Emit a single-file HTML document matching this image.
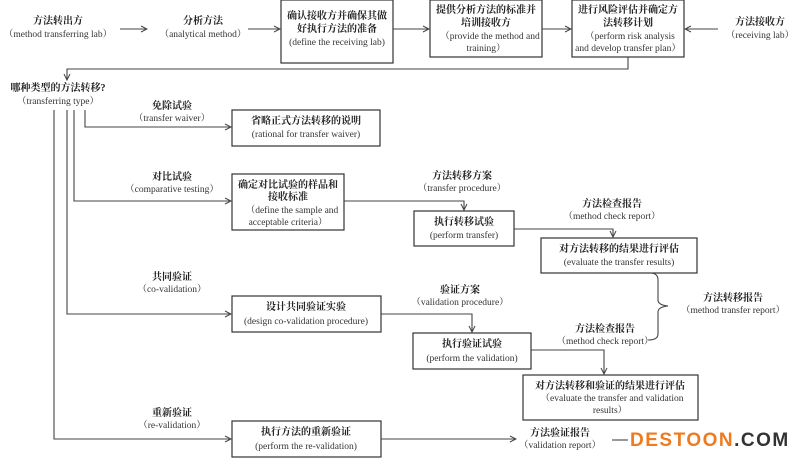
<!DOCTYPE html>
<html><head><meta charset="utf-8"><style>
html,body{margin:0;padding:0;background:#fff;}
svg{display:block;}
text{font-family:"Liberation Serif","Noto Serif CJK SC",serif;font-size:9.5px;fill:#333;text-anchor:middle;}
.c{font-weight:bold;font-size:10px;fill:#222;}
rect{fill:#fff;stroke:#333;stroke-width:1.2;}
.l{fill:none;stroke:#444;stroke-width:1.1;}
</style></head><body>
<svg width="800" height="458" viewBox="0 0 800 458">
<defs><marker id="a" markerWidth="8" markerHeight="8" refX="7" refY="4" orient="auto" markerUnits="userSpaceOnUse"><path d="M1,1 L7,4 L1,7" fill="none" stroke="#444" stroke-width="1"/></marker></defs>

<text class="c" x="58" y="24">方法转出方</text>
<text x="58" y="37">（method transferring lab）</text>
<path class="l" d="M120,29 H147" marker-end="url(#a)"/>
<text class="c" x="203" y="24">分析方法</text>
<text x="203" y="37">（analytical method）</text>
<path class="l" d="M248,29 H280" marker-end="url(#a)"/>
<rect x="281" y="0" width="112" height="63"/>
<text class="c" x="337" y="19">确认接收方并确保其做</text>
<text class="c" x="337" y="32">好执行方法的准备</text>
<text x="337" y="45">(define the receiving lab)</text>
<path class="l" d="M393,29 H429" marker-end="url(#a)"/>
<rect x="430" y="0" width="112" height="57"/>
<text class="c" x="486" y="13">提供分析方法的标准并</text>
<text class="c" x="486" y="26">培训接收方</text>
<text x="490" y="39">（provide the method and</text>
<text x="486" y="51">training）</text>
<path class="l" d="M542,29 H571" marker-end="url(#a)"/>
<rect x="572" y="0" width="112" height="57"/>
<text class="c" x="628" y="13">进行风险评估并确定方</text>
<text class="c" x="628" y="26">法转移计划</text>
<text x="630" y="39">（perform risk analysis</text>
<text x="628" y="51">and develop transfer plan）</text>
<path class="l" d="M718,29 H685" marker-end="url(#a)"/>
<text class="c" x="760" y="25">方法接收方</text>
<text x="760" y="38">（receiving lab）</text>
<path class="l" d="M628,57 V69 H67 V80" marker-end="url(#a)"/>

<text class="c" x="58" y="91">哪种类型的方法转移?</text>
<text x="58" y="104">（transferring type）</text>

<path class="l" d="M85,110 V127 H231" marker-end="url(#a)"/>
<path class="l" d="M74,110 V201 H231" marker-end="url(#a)"/>
<path class="l" d="M67,110 V314 H231" marker-end="url(#a)"/>
<path class="l" d="M54,110 V439 H231" marker-end="url(#a)"/>

<text class="c" x="172" y="109">免除试验</text>
<text x="172" y="121">（transfer waiver）</text>
<rect x="232" y="110" width="148" height="36"/>
<text class="c" x="306" y="124">省略正式方法转移的说明</text>
<text x="306" y="137">(rational for transfer waiver)</text>

<text class="c" x="172" y="180">对比试验</text>
<text x="172" y="192">（comparative testing）</text>
<rect x="232" y="174" width="112" height="56"/>
<text class="c" x="288" y="188">确定对比试验的样品和</text>
<text class="c" x="288" y="200">接收标准</text>
<text x="292" y="213">（define the sample and</text>
<text x="288" y="225">acceptable criteria）</text>
<path class="l" d="M344,201 H464 V210" marker-end="url(#a)"/>
<text class="c" x="462" y="179">方法转移方案</text>
<text x="462" y="191">（transfer procedure）</text>
<rect x="414" y="211" width="100" height="35"/>
<text class="c" x="464" y="225">执行转移试验</text>
<text x="464" y="238">(perform transfer)</text>
<path class="l" d="M514,229 H613 V237" marker-end="url(#a)"/>
<text class="c" x="612" y="207">方法检查报告</text>
<text x="612" y="219">（method check report）</text>
<rect x="541" y="238" width="156" height="35"/>
<text class="c" x="619" y="252">对方法转移的结果进行评估</text>
<text x="619" y="265">(evaluate the transfer results)</text>

<path class="l" d="M650,273 Q658,273 658,280 V300 Q658,305 668,306 Q658,307 658,312 V334 Q658,340 648,340"/>
<text class="c" x="733" y="301">方法转移报告</text>
<text x="733" y="313">（method transfer report）</text>

<text class="c" x="172" y="280">共同验证</text>
<text x="172" y="292">（co-validation）</text>
<rect x="232" y="296" width="149" height="36"/>
<text class="c" x="306" y="310">设计共同验证实验</text>
<text x="306" y="324">(design co-validation procedure)</text>
<path class="l" d="M381,314 H472 V332" marker-end="url(#a)"/>
<text class="c" x="460" y="293">验证方案</text>
<text x="460" y="305">（validation procedure）</text>
<rect x="413" y="333" width="118" height="36"/>
<text class="c" x="472" y="347">执行验证试验</text>
<text x="472" y="361">(perform the validation)</text>
<path class="l" d="M531,350 H604 V374" marker-end="url(#a)"/>
<text class="c" x="605" y="332">方法检查报告</text>
<text x="605" y="344">（method check report）</text>
<rect x="523" y="375" width="175" height="45"/>
<text class="c" x="610" y="389">对方法转移和验证的结果进行评估</text>
<text x="612" y="401">（evaluate the transfer and validation</text>
<text x="610" y="413">results）</text>

<text class="c" x="172" y="416">重新验证</text>
<text x="172" y="428">（re-validation）</text>
<rect x="232" y="421" width="149" height="36"/>
<text class="c" x="306" y="435">执行方法的重新验证</text>
<text x="306" y="449">(perform the re-validation)</text>
<path class="l" d="M381,439 H516" marker-end="url(#a)"/>
<text class="c" x="560" y="436">方法验证报告</text>
<text x="560" y="448">（validation report）</text>
<path class="l" d="M612,440 H628"/>
<text x="630" y="446" style="text-anchor:start;font-family:'Liberation Sans',sans-serif;font-weight:bold;font-size:19px;fill:#f07a1e;letter-spacing:1.5px;">DESTOON<tspan style="fill:#333">.COM</tspan></text>
</svg>
</body></html>
